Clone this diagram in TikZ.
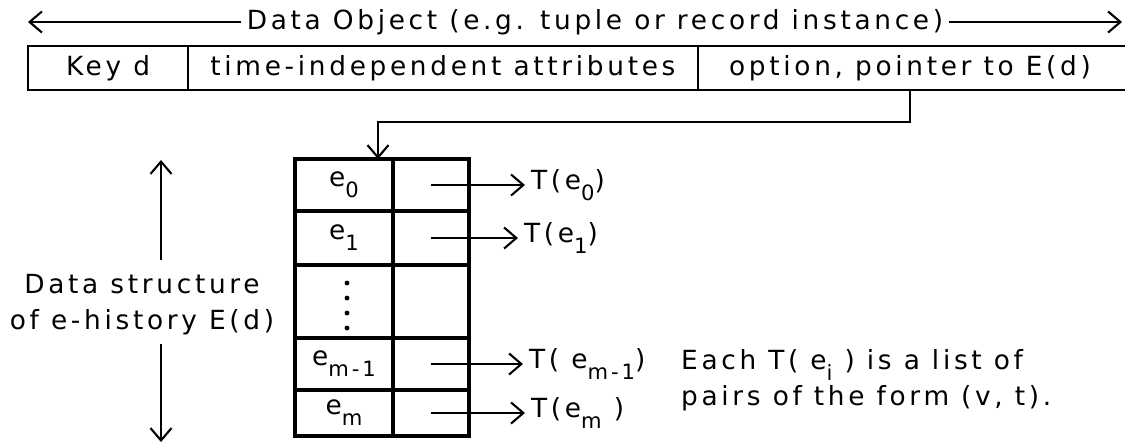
\documentclass[tikz,border=0pt]{standalone}
\usepackage{fontspec}
\setmainfont{DejaVu Sans}[LetterSpace=14]
\usetikzlibrary{arrows.meta, calc, positioning}

\newcommand{\lowsub}[1]{\raisebox{-0.75ex}{\fontsize{12}{14}\selectfont #1}}

\begin{document}
\begin{tikzpicture}[
        x = 0.02cm, y = -0.02cm,
        >= {Straight Barb[length = 7pt, width = 12pt]},
        every node/.style = {font = \fontsize{15}{20.5}\selectfont},
        rowcell/.style = {draw, line width = 1.5pt, minimum height = 0.88cm, inner sep = 0pt, outer sep = 0pt},
        tabcell/.style = {draw, line width = 1.8pt, minimum height = #1, inner sep = 0pt, outer sep = 0pt},
        link/.style = {line width = 1.2pt}
    ]

    \useasboundingbox (0,0) rectangle (1125,443);

        \node[inner sep = 3pt] (title) at (595,22) {Data Object (e.g. tuple or record instance)};
        \coordinate (ltip) at (28,22);
        \coordinate (rtip) at (1122,22);
        \draw[link, ->] (title) -- (ltip);
        \draw[link, ->] (title) -- (rtip);

        \node[rowcell, minimum width = 3.2cm] (key) at (108,68) {Key d};
        \node[rowcell, minimum width = 10.2cm, right = 0pt of key] (attr) {time-independent attributes};
        \node (opt) at (910,68) {option, pointer to E(d)};
        \draw[line width = 1.5pt] (attr.north east) -- ++(427,0)
                                  (attr.south east) -- ++(427,0);


        \foreach \n/\lab/\yc/\h in {0/{e\lowsub{0}}/185/1.04cm, 1/{e\lowsub{1}}/238/1.08cm,
                                    d/{}/301.5/1.46cm, m1/{e\lowsub{m-1}}/364/1.04cm,
                                    m/{e\lowsub{m}}/413/0.92cm} {
            \node[tabcell = \h, minimum width = 1.96cm] (e\n) at (344,\yc) {\lab};
            \node[tabcell = \h, minimum width = 1.52cm] (p\n) at (431,\yc) {};
        }
        \foreach \y in {283, 298, 313, 328}
            \fill (347,\y) circle (1.4pt);

        \coordinate (entry) at ($(e0.north east)+(-15,0)$);
        \draw[link, ->] (attr.south -| opt) -- ++(0,32) -| (entry);


        \foreach \n/\lab/\d in {0/{T(e\lowsub{0})}/1.12cm, 1/{T(e\lowsub{1})}/0.98cm,
                                m1/{T( e\lowsub{m-1})}/1.08cm, m/{T(e\lowsub{m} )}/1.12cm} {
            \node[right = \d of p\n] (t\n) {\lab};
            \draw[link, ->] (p\n.center) -- (t\n);
        }

        \node[anchor = west, align = left] (note) at (675,380)
            {Each T( e\lowsub{i} ) is a list of\\pairs of the form (v, t).};


        \node[align = center, inner sep = 5pt] (hist) at (142,305) {Data structure\\of e-history E(d)};
        \coordinate (histtop) at (161,160);
        \coordinate (histbot) at (161,442);
        \draw[link, ->, shorten <= 3pt] (hist.north -| histtop) -- (histtop);
        \draw[link, ->] (hist.south -| histbot) -- (histbot);

    \end{tikzpicture}
\end{document}
